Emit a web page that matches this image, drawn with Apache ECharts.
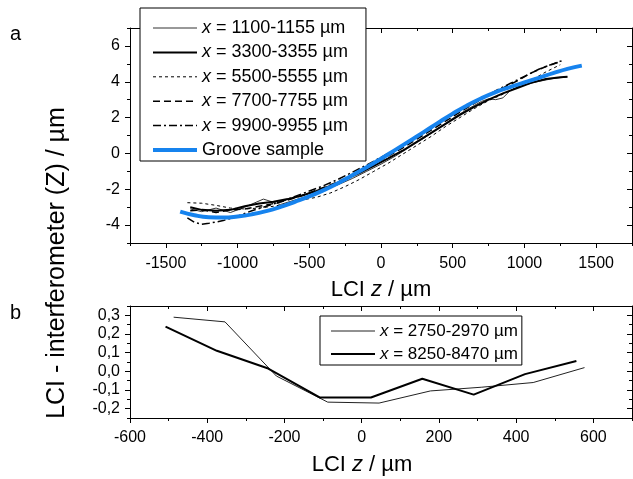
<!DOCTYPE html>
<html><head><meta charset="utf-8">
<script src="https://cdn.jsdelivr.net/npm/echarts@6/dist/echarts.min.js"></script>
<style>html,body{margin:0;padding:0;background:#fff}#c{width:633px;height:479px}</style>
</head><body><div id="c"></div><script>
// ---------- data: panel a ----------
const zA1100 = [-1330,-1250,-1150,-1050,-950,-820,-700,-600,-500,-400,-300,-200,-100,0,100,200,300,400,500,600,700,750,800,850,900,950,1000,1100,1200,1300];
const yA1100 = [-3.1,-3.25,-3.05,-3.3,-3.0,-2.55,-2.85,-2.6,-2.35,-2.05,-1.75,-1.4,-1.0,-0.6,-0.15,0.35,0.85,1.4,1.95,2.45,2.9,3.05,3.0,3.1,3.5,3.7,3.82,4.02,4.18,4.27];
const zA3300 = [-1330,-1250,-1150,-1050,-950,-850,-750,-650,-550,-450,-350,-250,-150,-50,50,150,250,350,450,550,650,750,850,950,1050,1150,1250,1300];
const yA3300 = [-3.0,-3.15,-3.2,-3.15,-2.95,-2.8,-2.7,-2.55,-2.35,-2.1,-1.8,-1.45,-1.1,-0.7,-0.28,0.15,0.65,1.15,1.65,2.15,2.6,3.0,3.35,3.65,3.95,4.15,4.25,4.28];
const zA5500 = [-1350,-1250,-1150,-1050,-950,-850,-750,-650,-550,-450,-350,-250,-150,-50,50,150,250,350,450,550,650,750,850,950,1050,1150,1250];
const yA5500 = [-2.75,-2.78,-2.9,-3.05,-3.1,-3.05,-2.95,-2.8,-2.6,-2.45,-2.2,-1.85,-1.45,-1.0,-0.55,-0.05,0.45,0.95,1.5,2.0,2.5,2.95,3.3,3.7,4.1,4.55,4.95];
const zA7700 = [-1330,-1250,-1150,-1050,-950,-850,-750,-650,-550,-450,-350,-250,-150,-50,50,150,250,350,450,550,650,750,850,950,1050,1150,1260];
const yA7700 = [-3.2,-3.15,-3.3,-3.15,-3.1,-2.95,-2.8,-2.6,-2.35,-2.05,-1.75,-1.4,-1.0,-0.6,-0.15,0.3,0.8,1.3,1.8,2.3,2.8,3.25,3.65,4.05,4.5,4.85,5.15];
const zA9900 = [-1350,-1300,-1250,-1200,-1100,-1000,-900,-800,-700,-600,-500,-400,-300,-200,-100,0,100,200,300,400,500,600,700,800,900,1000,1100,1200,1270];
const yA9900 = [-3.6,-3.85,-3.95,-3.9,-3.75,-3.5,-3.2,-2.95,-2.7,-2.4,-2.1,-1.8,-1.45,-1.05,-0.65,-0.22,0.22,0.68,1.15,1.65,2.15,2.6,3.05,3.5,3.9,4.3,4.7,5.0,5.2];
const zGroove = [-1400,-1300,-1200,-1100,-1000,-900,-800,-700,-600,-500,-400,-300,-200,-100,0,100,200,300,400,500,600,700,800,900,1000,1100,1200,1300,1400];
const yGroove = [-3.25,-3.45,-3.56,-3.58,-3.52,-3.4,-3.22,-2.98,-2.7,-2.4,-2.05,-1.66,-1.22,-0.77,-0.3,0.2,0.7,1.2,1.72,2.22,2.68,3.08,3.42,3.7,3.96,4.22,4.48,4.72,4.9];
// ---------- data: panel b ----------
const zB2750 = [-487,-354,-221,-88,45,178,311,444,577];
const yB2750 = [0.29,0.265,-0.025,-0.165,-0.17,-0.105,-0.085,-0.06,0.02];
const zB8250 = [-508,-375,-242,-109,24,157,290,423,556];
const yB8250 = [0.24,0.11,0.015,-0.14,-0.14,-0.04,-0.125,-0.015,0.055];
// ---------- ticks ----------
const aXMajor = [-1500,-1000,-500,0,500,1000,1500];
const aXMinor = [-1750,-1250,-750,-250,250,750,1250,1750];
const aYMajor = [-4,-2,0,2,4,6];
const aYMinor = [-5,-3,-1,1,3,5,7];
const bXMajor = [-600,-400,-200,0,200,400,600];
const bXMinor = [-500,-300,-100,100,300,500,700];
const bYMajor = [-0.2,-0.1,0,0.1,0.2,0.3];
const bYMinor = [-0.25,-0.15,-0.05,0.05,0.15,0.25,0.35];

const F = 'Liberation Sans, Arial, sans-serif';
const pairs = (z, y) => z.map((v, i) => [v, y[i]]);
const fmtInt = v => String(Math.round(v));
const fmtB = v => (Math.round(v * 10) / 10).toFixed(1).replace('.', ',');

function axis(grid, pos, min, max, vals, len, opt) {
  opt = opt || {};
  const inside = (pos === 'top' || pos === 'right');
  return {
    gridIndex: grid, type: 'value', position: pos, min: min, max: max,
    axisLine: {show: !!opt.line, onZero: false, lineStyle: {color: '#000', width: 1}},
    axisTick: {show: true, inside: inside, length: len, customValues: vals, lineStyle: {color: '#000', width: 1}},
    axisLabel: opt.label ? {show: true, customValues: vals, margin: opt.margin, color: '#000', fontSize: 16, fontFamily: F, formatter: opt.fmt || fmtInt} : {show: false},
    splitLine: {show: false}
  };
}

const xAxes = [
  axis(0, 'bottom', -1750, 1750, aXMajor, 5, {line: true, label: true, margin: 13}),
  axis(0, 'bottom', -1750, 1750, aXMinor, 3),
  axis(0, 'top', -1750, 1750, aXMajor, 5, {line: true}),
  axis(0, 'top', -1750, 1750, aXMinor, 3),
  axis(1, 'bottom', -600, 700, bXMajor, 5, {line: true, label: true, margin: 12}),
  axis(1, 'bottom', -600, 700, bXMinor, 3),
  axis(1, 'top', -600, 700, bXMajor, 5, {line: true}),
  axis(1, 'top', -600, 700, bXMinor, 3)
];
const yAxes = [
  axis(0, 'left', -5, 7, aYMajor, 5, {line: true, label: true, margin: 10}),
  axis(0, 'left', -5, 7, aYMinor, 3),
  axis(0, 'right', -5, 7, aYMajor, 5, {line: true}),
  axis(0, 'right', -5, 7, aYMinor, 3),
  axis(1, 'left', -0.25, 0.35, bYMajor, 5, {line: true, label: true, margin: 10, fmt: fmtB}),
  axis(1, 'left', -0.25, 0.35, bYMinor, 3),
  axis(1, 'right', -0.25, 0.35, bYMajor, 5, {line: true}),
  axis(1, 'right', -0.25, 0.35, bYMinor, 3)
];

function line(name, z, y, xi, yi, color, width, type, smooth) {
  return {name: name, type: 'line', xAxisIndex: xi, yAxisIndex: yi, data: pairs(z, y), symbol: 'none',
    smooth: !!smooth, lineStyle: {color: color, width: width, type: type}, itemStyle: {color: color}, silent: true};
}
const N1 = 'x = 1100-1155 µm', N2 = 'x = 3300-3355 µm', N3 = 'x = 5500-5555 µm',
      N4 = 'x = 7700-7755 µm', N5 = 'x = 9900-9955 µm', N6 = 'Groove sample',
      M1 = 'x = 2750-2970 µm', M2 = 'x = 8250-8470 µm';
const BLUE = '#1683ee';
const series = [
  line(N1, zA1100, yA1100, 0, 0, '#333', 1, 'solid'),
  line(N2, zA3300, yA3300, 0, 0, '#000', 2, 'solid'),
  line(N3, zA5500, yA5500, 0, 0, '#000', 1, [3, 3]),
  line(N4, zA7700, yA7700, 0, 0, '#000', 1.5, [7, 4]),
  line(N5, zA9900, yA9900, 0, 0, '#000', 1.5, [8, 3, 2, 3]),
  line(N6, zGroove, yGroove, 0, 0, BLUE, 4, 'solid', true),
  line(M1, zB2750, yB2750, 4, 4, '#222', 1, 'solid'),
  line(M2, zB8250, yB8250, 4, 4, '#000', 2, 'solid')
];
const fmtLegend = n => n.charAt(0) === 'x' ? '{i|x}' + n.slice(1) : n;
const legendItem = (name, w, type, color) => ({name: name, lineStyle: {width: w, type: type, color: color}, itemStyle: {opacity: 0}});

const chart = echarts.init(document.getElementById('c'), null, {renderer: 'canvas'});
chart.setOption({
  animation: false,
  backgroundColor: '#fff',
  grid: [
    {left: 130, top: 28, width: 502, height: 215, containLabel: false},
    {left: 130, top: 306, width: 502, height: 112, containLabel: false}
  ],
  xAxis: xAxes,
  yAxis: yAxes,
  legend: [
    {left: 140, top: 8, orient: 'vertical', itemWidth: 44, itemHeight: 14, itemGap: 4.4, selectedMode: false,
     padding: [10, 18, 1, 11], borderColor: '#000', borderWidth: 1, borderRadius: 0, backgroundColor: '#fff',
     formatter: fmtLegend,
     textStyle: {fontSize: 18, fontFamily: F, color: '#000', lineHeight: 20,
       rich: {i: {fontStyle: 'italic', fontSize: 18, fontFamily: F, color: '#000', lineHeight: 20}}},
     data: [legendItem(N1, 1, 'solid', '#333'), legendItem(N2, 2, 'solid', '#000'), legendItem(N3, 1, [3, 3], '#000'),
            legendItem(N4, 1.5, [7, 4], '#000'), legendItem(N5, 1.5, [8, 3, 2, 3], '#000'), legendItem(N6, 4, 'solid', BLUE)]},
    {left: 320, top: 316, orient: 'vertical', itemWidth: 44, itemHeight: 14, itemGap: 5, selectedMode: false,
     padding: [6, 4, 2, 10], borderColor: '#000', borderWidth: 1, borderRadius: 0, backgroundColor: '#fff',
     formatter: fmtLegend,
     textStyle: {fontSize: 17, fontFamily: F, color: '#000', lineHeight: 18,
       rich: {i: {fontStyle: 'italic', fontSize: 17, fontFamily: F, color: '#000', lineHeight: 18}}},
     data: [legendItem(M1, 1, 'solid', '#222'), legendItem(M2, 2, 'solid', '#000')]}
  ],
  graphic: [
    {type: 'text', left: 10, top: 24, style: {text: 'a', fontSize: 20, fontFamily: F, fill: '#000'}},
    {type: 'text', left: 10, top: 303, style: {text: 'b', fontSize: 20, fontFamily: F, fill: '#000'}},
    {type: 'text', x: 57, y: 263, rotation: Math.PI / 2,
     style: {text: 'LCI - interferometer (Z) / µm', fontSize: 25, fontFamily: F, fill: '#000', align: 'center', verticalAlign: 'middle'}},
    {type: 'text', x: 381, y: 290,
     style: {text: 'LCI {i|z} / µm', fontSize: 22, fontFamily: F, fill: '#000', align: 'center', verticalAlign: 'middle',
       rich: {i: {fontStyle: 'italic', fontSize: 22, fontFamily: F}}}},
    {type: 'text', x: 362, y: 465,
     style: {text: 'LCI {i|z} / µm', fontSize: 22, fontFamily: F, fill: '#000', align: 'center', verticalAlign: 'middle',
       rich: {i: {fontStyle: 'italic', fontSize: 22, fontFamily: F}}}}
  ],
  series: series
});
</script></body></html>
